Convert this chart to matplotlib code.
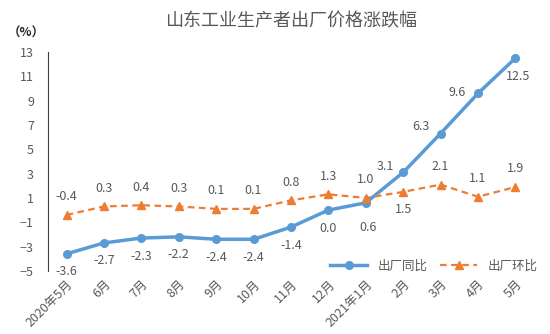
import matplotlib.pyplot as plt
import numpy as np

plt.rcParams['font.family'] = ['Noto Sans CJK SC', 'DejaVu Sans']

months = ['2020年5月', '6月', '7月', '8月', '9月', '10月', '11月', '12月',
          '2021年1月', '2月', '3月', '4月', '5月']
yoy = [-3.6, -2.7, -2.3, -2.2, -2.4, -2.4, -1.4, 0.0, 0.6, 3.1, 6.3, 9.6, 12.5]
mom = [-0.4, 0.3, 0.4, 0.3, 0.1, 0.1, 0.8, 1.3, 1.0, 1.5, 2.1, 1.1, 1.9]

# label offsets in points (dx, dy)
yoy_off = [(0, -13)] * 8 + [(2, -18), (-13, 4), (-14, 5), (-15, 1), (2, -13)]
mom_off = [(0, 13)] * 9 + [(0, -13), (0, 13), (0, 13), (0, 13)]

blue = '#5B9BD5'
orange = '#ED7D31'
gray = '#595959'

fig = plt.figure(figsize=(5.5, 3.34), dpi=100)
ax = fig.add_axes([0.087, 0.189, 0.884, 0.655])
x = np.arange(len(months))

ax.plot(x, yoy, color=blue, lw=2.5, marker='o', ms=5.5, label='出厂同比', zorder=3)
ax.plot(x, mom, color=orange, lw=1.6, ls='--', dashes=(3, 2), marker='^', ms=5.5,
        label='出厂环比', zorder=3)

for i, v in enumerate(yoy):
    ax.annotate(f'{v:.1f}', (i, v), xytext=yoy_off[i], textcoords='offset points',
                ha='center', va='center', fontsize=9, color=gray)
for i, v in enumerate(mom):
    ax.annotate(f'{v:.1f}', (i, v), xytext=mom_off[i], textcoords='offset points',
                ha='center', va='center', fontsize=9, color=gray)

ax.set_xlim(-0.5, len(months) - 0.5)
ax.set_ylim(-5, 13)
ax.set_yticks(np.arange(-5, 14, 2))
ax.set_xticks(x)
ax.set_xticklabels(months, rotation=45, ha='right', rotation_mode='anchor')
ax.tick_params(axis='both', length=0, labelsize=9, colors=gray)
ax.tick_params(axis='y', pad=10)
ax.tick_params(axis='x', pad=5)
for s in ['top', 'right', 'bottom']:
    ax.spines[s].set_visible(False)
ax.spines['left'].set_color('#404040')
ax.spines['left'].set_linewidth(0.8)

fig.text(0.53, 0.935, '山东工业生产者出厂价格涨跌幅', ha='center', va='center',
         fontsize=13, color=gray)
fig.text(0.015, 0.9, '（%）', ha='left', va='center', fontsize=9,
         color='#262626', fontweight='bold')

ax.legend(loc='lower right', bbox_to_anchor=(1.03, -0.06), ncol=2, frameon=False,
          fontsize=9, labelcolor=gray, handlelength=3.0, columnspacing=1.0)

fig.savefig('out.png', dpi=100)
